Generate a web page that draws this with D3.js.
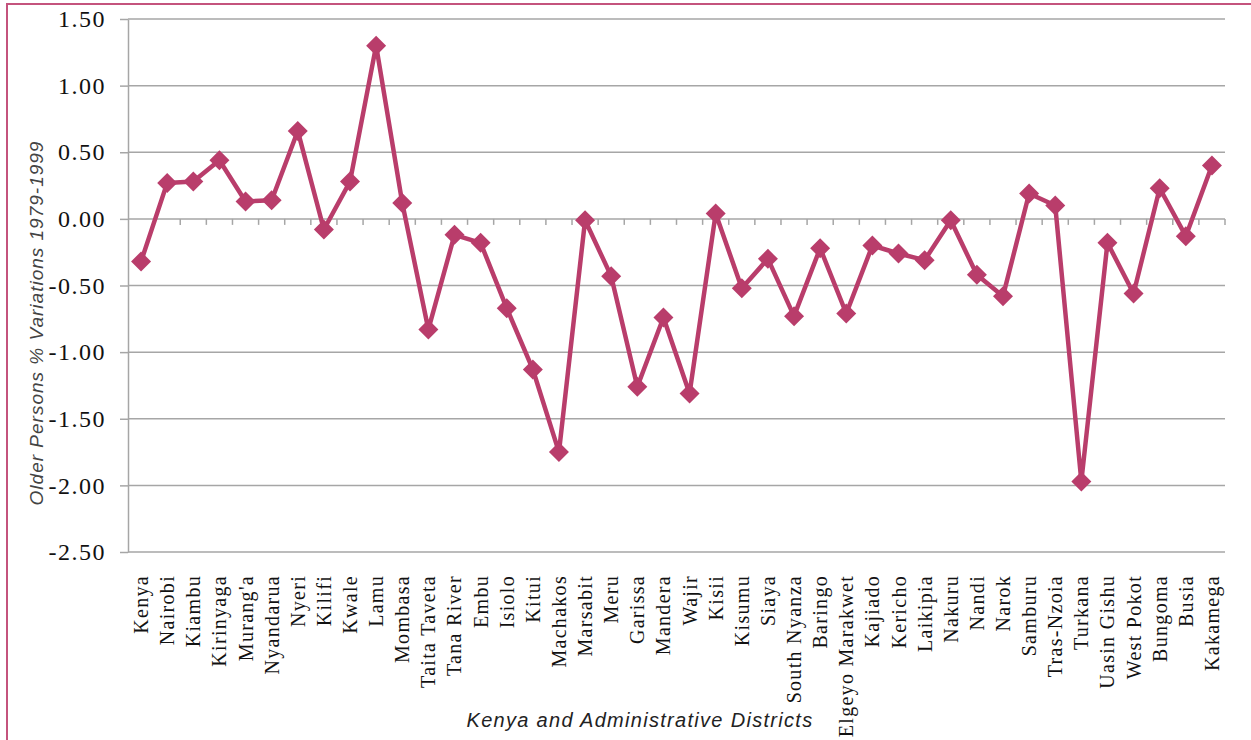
<!DOCTYPE html>
<html>
<head>
<meta charset="utf-8">
<script src="https://cdn.jsdelivr.net/npm/d3@7"></script>
<style>
  body { margin: 0; background: #fff; }
  svg { display: block; }
</style>
</head>
<body>
<div id="chart"></div>
<script>
// Data

const districts = ["Kenya", "Nairobi", "Kiambu", "Kirinyaga", "Murang'a", "Nyandarua", "Nyeri", "Kilifi",
    "Kwale", "Lamu", "Mombasa", "Taita Taveta", "Tana River", "Embu", "Isiolo", "Kitui", "Machakos",
    "Marsabit", "Meru", "Garissa", "Mandera", "Wajir", "Kisii", "Kisumu", "Siaya", "South Nyanza",
    "Baringo", "Elgeyo Marakwet", "Kajiado", "Kericho", "Laikipia", "Nakuru", "Nandi", "Narok",
    "Samburu", "Tras-Nzoia", "Turkana", "Uasin Gishu", "West Pokot", "Bungoma", "Busia", "Kakamega"];

const variations = [-0.32, 0.27, 0.28, 0.44, 0.13, 0.14, 0.66, -0.08,
    0.28, 1.30, 0.12, -0.83, -0.12, -0.18, -0.67, -1.13, -1.75,
    -0.01, -0.43, -1.26, -0.74, -1.31, 0.04, -0.52, -0.30, -0.73,
    -0.22, -0.71, -0.20, -0.26, -0.31, -0.01, -0.42, -0.58,
    0.19, 0.10, -1.97, -0.18, -0.56, 0.23, -0.13, 0.40];

const yTicks = [1.5, 1.0, 0.5, 0.0, -0.5, -1.0, -1.5, -2.0, -2.5];

// Sizes and layout

const W = 1251, H = 740;
const margin = {top: 19, right: 26, bottom: 188, left: 128};  // plot box 128..1225 x 19..552
const width = W - margin.left - margin.right,
      height = H - margin.top - margin.bottom;
const lineColor = "#b93d6b";
const serif = "'Liberation Serif', 'Times New Roman', serif";

const svg = d3.select("#chart").append("svg")
    .attr("width", W)
    .attr("height", H);

// Outer frame (only the top and left edges show in the picture)
svg.append("path")
    .attr("d", "M7,740 V4 H1251")
    .attr("fill", "none")
    .attr("stroke", "#c4537d")
    .attr("stroke-width", 2);

const g = svg.append("g")
    .attr("transform", "translate(" + margin.left + "," + margin.top + ")");

// Scales

const x = d3.scaleBand().domain(districts).range([0, width]).padding(0);
const y = d3.scaleLinear().domain([-2.5, 1.5]).range([height, 0]);

// Horizontal gridlines

g.selectAll(".grid")
    .data(yTicks)
    .enter()
    .append("line")
        .attr("class", "grid")
        .attr("x1", 0)
        .attr("x2", width)
        .attr("y1", d => y(d))
        .attr("y2", d => y(d))
        .attr("stroke", "#a6a6a6")
        .attr("stroke-width", 1.5);

// Y axis

const yAxis = g.append("g")
    .call(d3.axisLeft(y).tickValues(yTicks).tickSize(8).tickSizeOuter(0).tickPadding(14)
        .tickFormat(d => d3.format(".2f")(d).replace("−", "-")));
yAxis.attr("font-family", serif).attr("font-size", 24);
yAxis.select(".domain").attr("stroke", "#a6a6a6").attr("stroke-width", 1.5);
yAxis.selectAll(".tick line").attr("stroke", "#a6a6a6").attr("stroke-width", 1.5);
yAxis.selectAll(".tick text")
    .style("font-family", serif)
    .style("font-size", "24px")
    .style("letter-spacing", "1.5px")
    .attr("fill", "#111");

// Category tick marks sit on the zero line

const bounds = d3.range(1, districts.length + 1).map(i => i * x.step());
g.selectAll(".ctick")
    .data(bounds)
    .enter()
    .append("line")
        .attr("class", "ctick")
        .attr("x1", d => d)
        .attr("x2", d => d)
        .attr("y1", y(0))
        .attr("y2", y(0) + 6)
        .attr("stroke", "#a6a6a6")
        .attr("stroke-width", 1.5);

// Category labels, low position under the plot

g.selectAll(".clabel")
    .data(districts)
    .enter()
    .append("text")
        .attr("class", "clabel")
        .attr("transform", d => "translate(" + (x(d) + x.bandwidth() / 2) + "," + (height + 23) + ") rotate(-90)")
        .attr("text-anchor", "end")
        .attr("dominant-baseline", "central")
        .attr("font-family", serif)
        .attr("font-size", 20)
        .attr("letter-spacing", 1.3)
        .attr("fill", "#111")
        .text(d => d);

// Line and diamond markers

const line = d3.line()
    .x((d, i) => x(districts[i]) + x.bandwidth() / 2)
    .y(d => y(d));

g.append("path")
    .datum(variations)
    .attr("fill", "none")
    .attr("stroke", lineColor)
    .attr("stroke-width", 4.5)
    .attr("stroke-linejoin", "round")
    .attr("d", line);

g.selectAll(".marker")
    .data(variations)
    .enter()
    .append("path")
        .attr("class", "marker")
        .attr("transform", (d, i) => "translate(" + (x(districts[i]) + x.bandwidth() / 2) + "," + y(d) + ")")
        .attr("d", "M0,-10 L10,0 L0,10 L-10,0 Z")
        .attr("fill", lineColor);

// Axis titles

svg.append("text")
    .attr("transform", "translate(43,323) rotate(-90)")
    .attr("text-anchor", "middle")
    .attr("font-family", "'Liberation Sans', Arial, sans-serif")
    .attr("font-style", "italic")
    .attr("font-size", 19)
    .attr("letter-spacing", 1)
    .attr("fill", "#444")
    .text("Older Persons % Variations 1979-1999");

svg.append("text")
    .attr("x", 640)
    .attr("y", 727)
    .attr("text-anchor", "middle")
    .attr("font-family", "'Liberation Sans', Arial, sans-serif")
    .attr("font-style", "italic")
    .attr("font-size", 20)
    .attr("letter-spacing", 1.3)
    .attr("fill", "#222")
    .text("Kenya and Administrative Districts");
</script>
</body>
</html>
